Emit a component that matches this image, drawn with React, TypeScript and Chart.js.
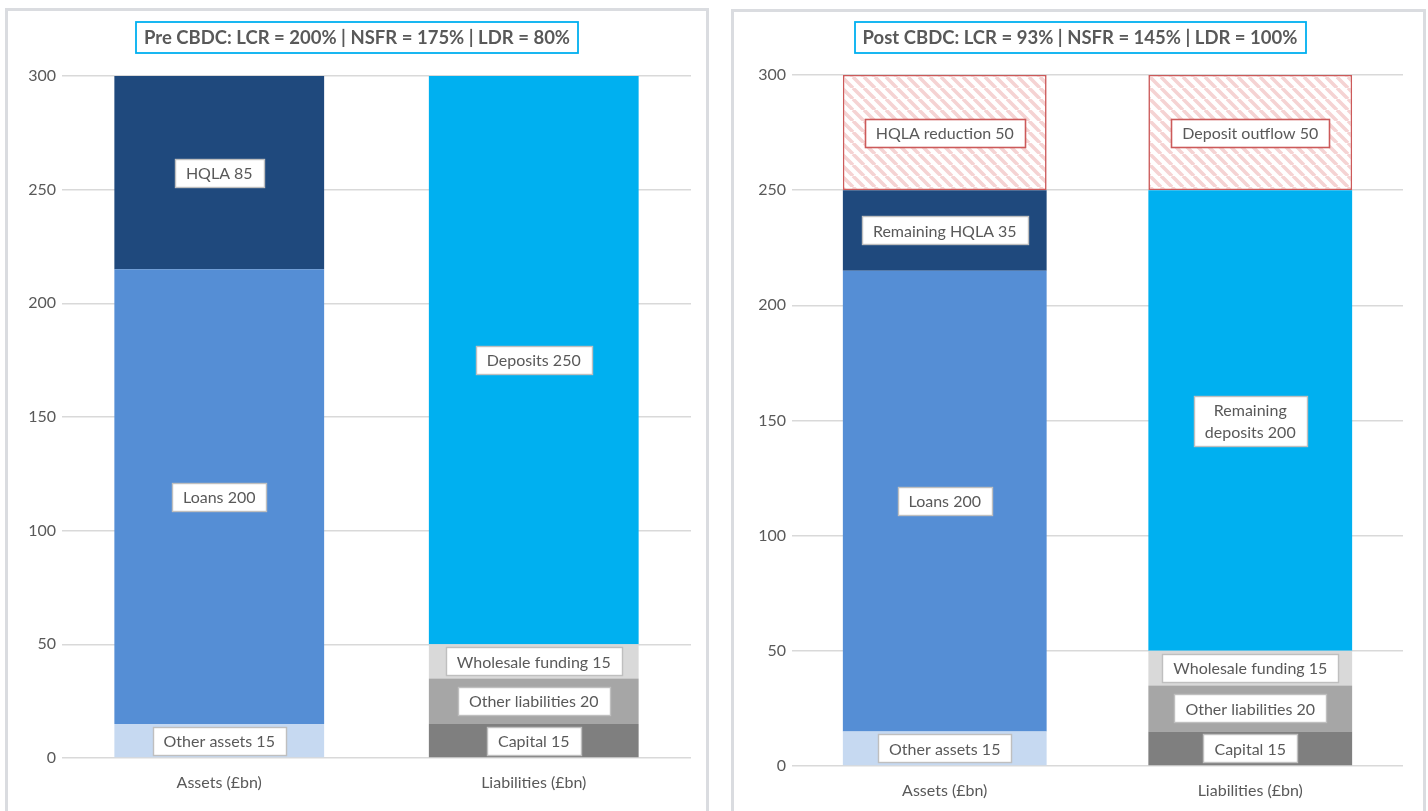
import React, { useEffect, useRef } from "react";
import { Chart, registerables } from "chart.js";

Chart.register(...registerables);

// ---------- data ----------
const categories = ["Assets (£bn)", "Liabilities (£bn)"];
const yMin = 0;
const yMax = 300;
const yStep = 50;

const preTitle = "Pre CBDC: LCR = 200% | NSFR = 175% | LDR = 80%";
const preOtherAssets = [15, null];
const preLoans = [200, null];
const preHQLA = [85, null];
const preCapital = [null, 15];
const preOtherLiabilities = [null, 20];
const preWholesale = [null, 15];
const preDeposits = [null, 250];

const postTitle = "Post CBDC: LCR = 93% | NSFR = 145% | LDR = 100%";
const postOtherAssets = [15, null];
const postLoans = [200, null];
const postRemainingHQLA = [35, null];
const postHQLAReduction = [50, null];
const postCapital = [null, 15];
const postOtherLiabilities = [null, 20];
const postWholesale = [null, 15];
const postRemainingDeposits = [null, 200];
const postDepositOutflow = [null, 50];

// ---------- styles ----------
const FONT = "Lato, 'Open Sans', sans-serif";
const TEXT = "#595959";
const C_OTHER_ASSETS = "#c6d9f1";
const C_LOANS = "#558ed5";
const C_HQLA = "#1f497d";
const C_CAPITAL = "#7f7f7f";
const C_OTHER_LIAB = "#a6a6a6";
const C_WHOLESALE = "#d9d9d9";
const C_DEPOSITS = "#00b0f0";
const C_RED = "#cc5a5a";

type Series = { name: string; data: (number | null)[]; color: string; hatched?: boolean };

const preSeries: Series[] = [
  { name: "Other assets", data: preOtherAssets, color: C_OTHER_ASSETS },
  { name: "Loans", data: preLoans, color: C_LOANS },
  { name: "HQLA", data: preHQLA, color: C_HQLA },
  { name: "Capital", data: preCapital, color: C_CAPITAL },
  { name: "Other liabilities", data: preOtherLiabilities, color: C_OTHER_LIAB },
  { name: "Wholesale funding", data: preWholesale, color: C_WHOLESALE },
  { name: "Deposits", data: preDeposits, color: C_DEPOSITS },
];

const postSeries: Series[] = [
  { name: "Other assets", data: postOtherAssets, color: C_OTHER_ASSETS },
  { name: "Loans", data: postLoans, color: C_LOANS },
  { name: "Remaining HQLA", data: postRemainingHQLA, color: C_HQLA },
  { name: "HQLA reduction", data: postHQLAReduction, color: "hatch", hatched: true },
  { name: "Capital", data: postCapital, color: C_CAPITAL },
  { name: "Other liabilities", data: postOtherLiabilities, color: C_OTHER_LIAB },
  { name: "Wholesale funding", data: postWholesale, color: C_WHOLESALE },
  { name: "Remaining\ndeposits", data: postRemainingDeposits, color: C_DEPOSITS },
  { name: "Deposit outflow", data: postDepositOutflow, color: "hatch", hatched: true },
];

function makeHatch(): CanvasPattern | string {
  const size = 11;
  const c = document.createElement("canvas");
  c.width = size;
  c.height = size;
  const g = c.getContext("2d");
  if (!g) return "#f4cccc";
  g.fillStyle = "#ffffff";
  g.fillRect(0, 0, size, size);
  g.strokeStyle = "#f5d3d3";
  g.lineWidth = 3.6;
  g.beginPath();
  for (const o of [-size, 0, size]) {
    g.moveTo(o, 0);
    g.lineTo(o + size, size);
  }
  g.stroke();
  return g.createPattern(c, "repeat") || "#f4cccc";
}

const labelPlugin = {
  id: "segLabels",
  afterDatasetsDraw(chart: any) {
    const ctx = chart.ctx;
    ctx.save();
    ctx.font = `16px ${FONT}`;
    ctx.textAlign = "center";
    ctx.textBaseline = "middle";
    chart.data.datasets.forEach((ds: any, i: number) => {
      const meta = chart.getDatasetMeta(i);
      meta.data.forEach((el: any, j: number) => {
        const v = ds.data[j];
        if (v === null || v === undefined) return;
        const text = `${ds.label} ${v}`;
        const lines = text.split("\n");
        const lh = 22;
        const tw = Math.max(...lines.map((l: string) => ctx.measureText(l).width));
        const barW = el.width;
        const w = Math.min(tw + 22, barW - 4);
        const h = lines.length * lh + 6;
        const cx = el.x;
        const cy = (el.y + el.base) / 2;
        const x0 = Math.round(cx - w / 2) + 0.5;
        const y0 = Math.round(cy - h / 2) + 0.5;
        ctx.fillStyle = "#ffffff";
        ctx.fillRect(x0, y0, Math.round(w), Math.round(h));
        ctx.lineWidth = ds.isHatched ? 1.6 : 1.4;
        ctx.strokeStyle = ds.isHatched ? C_RED : "#bfbfbf";
        ctx.strokeRect(x0, y0, Math.round(w), Math.round(h));
        ctx.fillStyle = TEXT;
        lines.forEach((l: string, k: number) => {
          ctx.fillText(l, cx, cy - ((lines.length - 1) * lh) / 2 + k * lh + 1);
        });
      });
    });
    ctx.restore();
  },
};

const titlePlugin = {
  id: "boxTitle",
  afterDraw(chart: any) {
    const t = chart.options.plugins.boxTitle?.text;
    if (!t) return;
    const ctx = chart.ctx;
    ctx.save();
    ctx.font = `bold 18.5px ${FONT}`;
    const tw = ctx.measureText(t).width;
    const w = Math.round(tw + 16);
    const h = 31;
    const cx = chart.width / 2;
    const x0 = Math.round(cx - w / 2);
    const y0 = 22;
    ctx.fillStyle = "#ffffff";
    ctx.fillRect(x0, y0, w, h);
    ctx.strokeStyle = "#00b0f0";
    ctx.lineWidth = 1.8;
    ctx.strokeRect(x0, y0, w, h);
    ctx.fillStyle = TEXT;
    ctx.textAlign = "center";
    ctx.textBaseline = "middle";
    ctx.fillText(t, cx, y0 + h / 2 + 1);
    ctx.restore();
  },
};

type PanelCfg = {
  title: string;
  series: Series[];
  axisWidth: number;
  padRight: number;
  padTop: number;
  xHeight: number;
  xPad: number;
};

function BalanceChart({ cfg, width, height }: { cfg: PanelCfg; width: number; height: number }) {
  const ref = useRef<HTMLCanvasElement | null>(null);
  useEffect(() => {
    if (!ref.current) return;
    const hatch = makeHatch();
    const datasets = cfg.series.map((s) => ({
      label: s.name,
      data: s.data,
      backgroundColor: s.hatched ? hatch : s.color,
      borderColor: s.hatched ? C_RED : s.color,
      borderWidth: s.hatched ? 1.6 : 0,
      borderSkipped: false as const,
      isHatched: !!s.hatched,
      categoryPercentage: 1,
      barPercentage: 0.667,
    }));
    const chart = new Chart(ref.current, {
      type: "bar",
      data: { labels: categories, datasets: datasets as any },
      plugins: [labelPlugin, titlePlugin],
      options: {
        responsive: false,
        animation: false,
        layout: { padding: { top: cfg.padTop, right: cfg.padRight, left: 0, bottom: 0 } },
        plugins: {
          legend: { display: false },
          tooltip: { enabled: false },
          boxTitle: { text: cfg.title },
        } as any,
        scales: {
          x: {
            stacked: true,
            grid: { display: false },
            border: { display: false },
            ticks: { color: TEXT, font: { family: FONT, size: 16 }, padding: cfg.xPad },
            afterFit: (s: any) => {
              s.height = cfg.xHeight;
            },
          },
          y: {
            stacked: true,
            min: yMin,
            max: yMax,
            ticks: { stepSize: yStep, color: TEXT, font: { family: FONT, size: 16 }, padding: 6 },
            grid: { color: "#d9d9d9", drawTicks: false, lineWidth: 1.5 },
            border: { display: false },
            afterFit: (s: any) => {
              s.width = cfg.axisWidth;
            },
          },
        },
      },
    });
    return () => chart.destroy();
  }, [cfg]);
  return <canvas ref={ref} width={width} height={height} style={{ width, height, display: "block" }} />;
}

const preCfg: PanelCfg = {
  title: preTitle,
  series: preSeries,
  axisWidth: 62,
  padRight: 23,
  padTop: 76,
  xHeight: 53,
  xPad: 7,
};
const postCfg: PanelCfg = {
  title: postTitle,
  series: postSeries,
  axisWidth: 60,
  padRight: 25,
  padTop: 75,
  xHeight: 45,
  xPad: 7,
};

export default function App() {
  return (
    <div
      style={{
        position: "fixed",
        left: 0,
        top: 0,
        width: 1428,
        height: 811,
        background: "#ffffff",
        overflow: "hidden",
      }}
    >
      <div
        style={{
          position: "absolute",
          left: 5,
          top: 8,
          width: 704,
          height: 830,
          border: "3px solid #dadce0",
          boxSizing: "border-box",
        }}
      />
      <div
        style={{
          position: "absolute",
          left: 731,
          top: 9,
          width: 695,
          height: 830,
          border: "3px solid #dadce0",
          boxSizing: "border-box",
        }}
      />
      <div style={{ position: "absolute", left: 0, top: 0 }}>
        <BalanceChart cfg={preCfg} width={714} height={811} />
      </div>
      <div style={{ position: "absolute", left: 732, top: 0 }}>
        <BalanceChart cfg={postCfg} width={696} height={811} />
      </div>
    </div>
  );
}
